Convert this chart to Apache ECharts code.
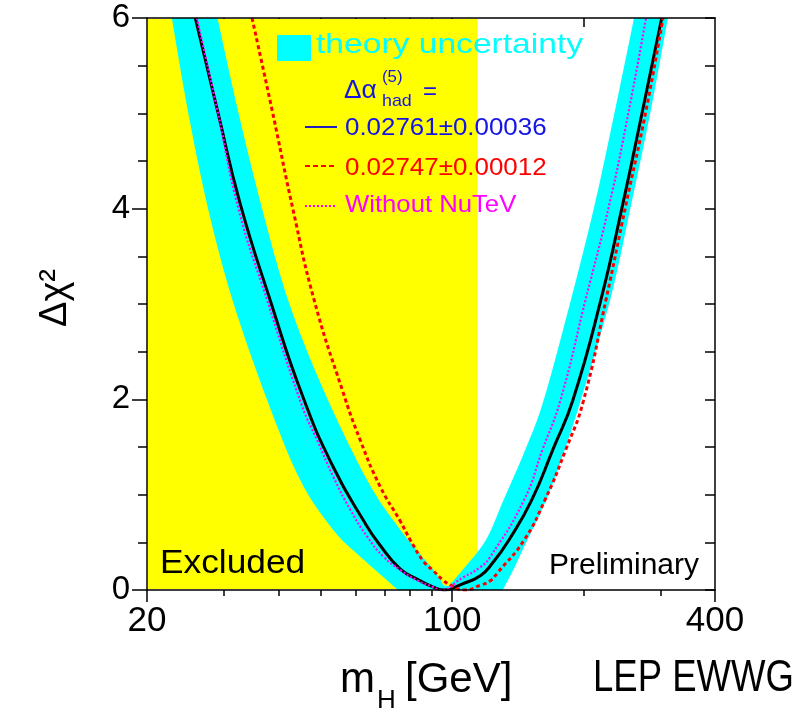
<!DOCTYPE html>
<html><head><meta charset="utf-8">
<script src="https://cdn.jsdelivr.net/npm/echarts@6/dist/echarts.min.js"></script>
<style>html,body{margin:0;padding:0;background:#fff}#c{width:812px;height:711px}</style>
</head><body><div id="c"></div>
<script>
// ---- axes ----
const xMin = 20, xMax = 400;
const yMin = 0, yMax = 6;
const xTickLabels = [20, 100, 400];
const xMajorTicks = [20, 100, 400];
const xMinorTicks = [30, 40, 50, 60, 70, 80, 90, 200, 300];
const xTopTicks = [30, 40, 50, 60, 70, 80, 90, 100, 200, 300];

// ---- excluded region (LEP direct search) ----
const excludedRange = [20, 114.4];

// ---- curves: [mH (GeV), delta chi2] ----
const curveCentral = [
  [25.8, 6.0], [29.0, 5.03], [32.7, 4.05], [38.3, 3.04], [45.3, 2.05], [53.4, 1.29],
  [63.0, 0.71], [68.1, 0.48], [76.1, 0.22], [84.3, 0.10], [90.6, 0.03], [96, 0.0],
  [105, 0.06], [116, 0.15], [123.6, 0.28], [134.7, 0.52], [152, 0.94], [170, 1.47],
  [189, 1.99], [219, 3.04], [246, 4.05], [273, 5.03], [302, 6.0]
];
const curveAlt = [
  [34.8, 6.0], [38.7, 5.03], [43.2, 3.99], [48.3, 3.04], [56.0, 2.10], [61.6, 1.57],
  [68.5, 1.08], [76.1, 0.72], [80.3, 0.52], [86.0, 0.30], [90.6, 0.20], [95.5, 0.10],
  [99.2, 0.05], [107, 0.0], [116, 0.05], [122.5, 0.10], [127, 0.18], [146, 0.52],
  [163, 0.94], [182, 1.47], [200, 1.99], [225, 3.04], [250, 4.04], [278, 5.03], [304, 6.0]
];
const curveNoNuTeV = [
  [26.0, 6.0], [29.0, 5.03], [32.4, 4.0], [37.7, 3.04], [45.4, 1.92], [49.1, 1.57],
  [53.4, 1.19], [58.5, 0.84], [63.9, 0.56], [69.6, 0.35], [76.1, 0.21], [83.3, 0.10],
  [90.6, 0.03], [94, 0.0], [105.8, 0.13], [116, 0.24], [121.9, 0.34], [146, 0.94],
  [161, 1.47], [177, 1.99], [202, 3.04], [229, 4.04], [254, 5.03], [278, 6.0]
];

// ---- theory uncertainty band edges ----
const bandOuterLeft = [[22.8, 6.0], [24.8, 5.03], [27.6, 4.0], [31.4, 3.04], [37.7, 1.99],
  [44.9, 1.15], [53.4, 0.63], [61.6, 0.35], [72.2, 0.07], [75, 0]];
const bandOuterRight = [[130.5, 0], [138, 0.21], [145, 0.42], [164, 0.94], [181, 1.47],
  [197, 1.99], [230, 3.04], [257, 4.04], [285, 5.03], [312, 6.0]];
const bandInnerRight = [[261, 6.0], [236, 5.03], [212, 4.04], [187, 3.04], [162, 1.99],
  [147, 1.47], [131, 0.94], [119.3, 0.52], [105.6, 0.21], [98, 0.04]];
const bandInnerLeft = [[95.5, 0.05], [90.6, 0.21], [76.1, 0.63], [63.9, 1.15], [50.7, 2.1],
  [42.1, 3.04], [36.7, 4.0], [32.3, 5.03], [29.0, 6.0]];

// ---- texts ----
const legendBandLabel = 'theory uncertainty';
const legendCentralLabel = '0.02761\u00b10.00036';
const legendAltLabel = '0.02747\u00b10.00012';
const legendNoNuTeVLabel = 'Without NuTeV';
const excludedLabel = 'Excluded';
const preliminaryLabel = 'Preliminary';
const groupLabel = 'LEP EWWG';

const bandEdges = [bandOuterLeft, bandOuterRight, bandInnerRight, bandInnerLeft];

const FONT = "'Liberation Sans', Arial, Helvetica, sans-serif";
const chart = echarts.init(document.getElementById('c'), null, {renderer: 'canvas'});

const blk = '#000';
const tickStyle = {color: blk, width: 1.5};

// Catmull-Rom subdivision of an edge, in pixel space (visual smoothing only)
function smoothEdge(pts, n) {
  const out = [];
  for (let i = 0; i < pts.length - 1; i++) {
    const p0 = pts[Math.max(i - 1, 0)], p1 = pts[i], p2 = pts[i + 1], p3 = pts[Math.min(i + 2, pts.length - 1)];
    for (let k = 0; k < n; k++) {
      const s = k / n, s2 = s * s, s3 = s2 * s;
      const f = function (a, b, c, d) {
        return 0.5 * (2 * b + (-a + c) * s + (2 * a - 5 * b + 4 * c - d) * s2 + (-a + 3 * b - 3 * c + d) * s3);
      };
      out.push([f(p0[0], p1[0], p2[0], p3[0]), f(p0[1], p1[1], p2[1], p3[1])]);
    }
  }
  out.push(pts[pts.length - 1]);
  return out;
}

function txt(x, y, text, size, color, opts) {
  opts = opts || {};
  return {
    type: 'text', x: x, y: y, scaleX: opts.sx || 1, rotation: opts.rot || 0, z: 20,
    style: {text: text, x: 0, y: 0, fill: color, font: size + 'px ' + FONT,
      align: opts.align || 'left', verticalAlign: 'middle'}
  };
}

const option = {
  animation: false,
  backgroundColor: '#fff',
  grid: {left: 147, right: 97, top: 18, bottom: 121, containLabel: false},
  xAxis: [
    {type: 'log', logBase: 10, min: xMin, max: xMax, position: 'bottom', z: 5,
      axisLine: {show: true, lineStyle: {color: blk, width: 1.5}},
      axisTick: {show: true, customValues: xMajorTicks, length: 12, lineStyle: tickStyle},
      minorTick: {show: false},
      axisLabel: {show: true, customValues: xTickLabels, fontSize: 35, fontFamily: FONT, color: blk, margin: 14},
      splitLine: {show: false}},
    {type: 'log', logBase: 10, min: xMin, max: xMax, position: 'bottom', z: 5,
      axisLine: {show: false},
      axisTick: {show: true, customValues: xMinorTicks, length: 6, lineStyle: tickStyle},
      axisLabel: {show: false}, splitLine: {show: false}},
    {type: 'log', logBase: 10, min: xMin, max: xMax, position: 'top', z: 0,
      axisLine: {show: false},
      axisTick: {show: true, inside: true, customValues: xTopTicks, length: 9, lineStyle: tickStyle},
      axisLabel: {show: false}, splitLine: {show: false}},
    {type: 'log', logBase: 10, min: xMin, max: xMax, position: 'top', z: 5,
      axisLine: {show: true, lineStyle: {color: blk, width: 1.5}},
      axisTick: {show: false}, axisLabel: {show: false}, splitLine: {show: false}}
  ],
  yAxis: [
    {type: 'value', min: yMin, max: yMax, interval: 2, position: 'left', z: 5,
      axisLine: {show: true, lineStyle: {color: blk, width: 1.5}},
      axisTick: {show: true, length: 15, lineStyle: tickStyle},
      minorTick: {show: true, splitNumber: 4, length: 9, lineStyle: tickStyle},
      axisLabel: {fontSize: 33, fontFamily: FONT, color: blk, margin: 17},
      splitLine: {show: false}, minorSplitLine: {show: false}},
    {type: 'value', min: yMin, max: yMax, interval: 0.5, position: 'right', z: 5,
      axisLine: {show: true, lineStyle: {color: blk, width: 1.5}},
      axisTick: {show: true, inside: true, length: 10, lineStyle: tickStyle},
      axisLabel: {show: false}, splitLine: {show: false}}
  ],
  series: [
    {type: 'custom', name: 'excluded', xAxisIndex: 0, yAxisIndex: 0, clip: true, z: 1,
      encode: {x: [0, 1]},
      data: [excludedRange],
      renderItem: function (params, api) {
        const p0 = api.coord([api.value(0), yMax]);
        const p1 = api.coord([api.value(1), yMin]);
        return {type: 'rect', shape: {x: p0[0] + 1, y: p0[1] + 1, width: p1[0] - p0[0] - 1, height: p1[1] - p0[1] - 2},
          style: {fill: '#ffff00'}};
      }},
    {type: 'custom', name: 'band', xAxisIndex: 0, yAxisIndex: 0, clip: true, z: 2,
      data: bandOuterLeft,
      renderItem: function (params, api) {
        if (params.dataIndex !== 0) return null;
        let pts = [];
        bandEdges.forEach(function (edge) {
          const px = edge.map(function (p) { return api.coord(p); });
          pts = pts.concat(smoothEdge(px, 8));
        });
        return {type: 'polygon', shape: {points: pts}, style: {fill: '#00ffff'}};
      }},
    {type: 'line', name: 'central', data: curveCentral, showSymbol: false, smooth: 0.5, z: 3,
      lineStyle: {color: '#000', width: 3}},
    {type: 'line', name: 'alt', data: curveAlt, showSymbol: false, smooth: 0.5, z: 4,
      lineStyle: {color: '#ff0000', width: 3, type: [4, 3]}},
    {type: 'line', name: 'nonutev', data: curveNoNuTeV, showSymbol: false, smooth: 0.5, z: 4,
      lineStyle: {color: '#ff00ff', width: 2.2, type: [2, 2]}}
  ],
  graphic: [
    {type: 'rect', z: 20, shape: {x: 277, y: 35, width: 34, height: 26}, style: {fill: '#00ffff'}},
    txt(316, 45, legendBandLabel, 28, '#00ffff', {sx: 1.2}),
    txt(344, 91, '\u0394\u03b1', 25, '#1414e6', {sx: 1.05}),
    txt(382, 78, '(5)', 16, '#1414e6', {sx: 1.05}),
    txt(382, 101, 'had', 17, '#1414e6', {sx: 1.05}),
    txt(423, 92, '=', 24, '#1414e6'),
    {type: 'line', z: 20, shape: {x1: 305, y1: 127, x2: 337, y2: 127}, style: {stroke: '#2020c0', lineWidth: 2}},
    txt(345, 128.5, legendCentralLabel, 24, '#1414e6', {sx: 1.08}),
    {type: 'line', z: 20, shape: {x1: 305, y1: 166, x2: 337, y2: 166}, style: {stroke: '#ff0000', lineWidth: 2, lineDash: [5, 3]}},
    txt(345, 168, legendAltLabel, 24, '#ff0000', {sx: 1.08}),
    {type: 'line', z: 20, shape: {x1: 305, y1: 206, x2: 337, y2: 206}, style: {stroke: '#ff00ff', lineWidth: 2, lineDash: [2, 2]}},
    txt(345, 205.5, legendNoNuTeVLabel, 24, '#ff00ff', {sx: 1.07}),
    txt(160, 563.5, excludedLabel, 33, blk, {sx: 1.07}),
    txt(549, 566, preliminaryLabel, 30, blk),
    txt(56, 298, '\u0394\u03c7\u00b2', 38, blk, {align: 'center', rot: Math.PI / 2}),
    txt(340, 680, 'm', 42, blk),
    txt(377, 701, 'H', 26, blk),
    txt(405, 680, '[GeV]', 42, blk),
    txt(593, 679, groupLabel, 44, blk, {sx: 0.83})
  ]
};
chart.setOption(option);
</script>
</body></html>
